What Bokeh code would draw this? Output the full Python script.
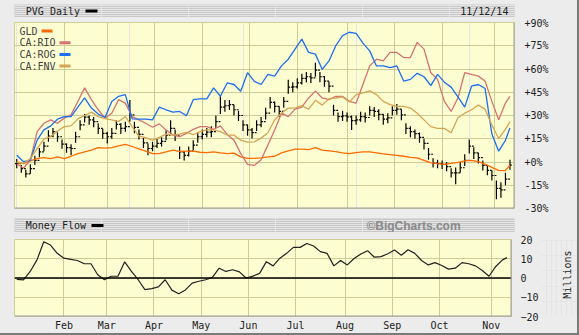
import math
import pandas as pd
from bokeh.plotting import figure
from bokeh.models import (Range1d, FixedTicker, Grid, Span, Label, BoxAnnotation,
                          PrintfTickFormatter)
from bokeh.core.properties import value
from bokeh.layouts import column, row
from bokeh.embed import file_html
from bokeh.resources import INLINE

BG = "#ececec"
BAND = "#c8c8c8"
PLOT_BG = "#fdfdd2"
GRID = "#cfcd96"
SHADOW = "#9c9c9c"
FONT = "DejaVu Sans Mono"

# trading days 2014-01-02 .. 2014-11-12
holidays = ["2014-01-20", "2014-02-17", "2014-04-18", "2014-05-26", "2014-07-04", "2014-09-01"]
days = pd.bdate_range("2014-01-02", "2014-11-12", freq="C", holidays=holidays)
N = len(days)

# sample positions (trading-day index)
line_idx = list(range(0, 217, 3)) + [218]
bar_idx = list(range(0, 219, 2))

# comparison series, % change
gld = [0, -1.1, 0.7, 2.2, 2.8, 2.2, 3.3, 2.2, 3.7, 5.4, 6.5, 7.6, 9.3, 8.9, 9.3, 10.4, 11.3, 10, 8.5, 7,
       5.4, 5.4, 6.5, 7.6, 6.8, 7, 7, 6.3, 6.1, 6.5, 5.9, 5.4, 5.7, 3.3, 2.4, 2.4, 2.6, 3.3, 3.7, 5.9,
       7.2, 8.3, 8.3, 8, 9.3, 7.6, 7.2, 6.7, 5.9, 5.4, 6.1, 6.5, 6.5, 5.9, 5.2, 4.8, 4.3, 3.7, 3, 2.6,
       1.1, -0.4, -1.1, -1.5, -0.9, -0.2, 0.7, 1.1, 0.2, -1.3, -3.5, -5.4, -5.5, -2]
rio = [-1.1, -3.9, 1.1, 19.6, 25, 27.2, 25, 28.3, 30.4, 39, 47.8, 40.2, 33.7, 28.3, 31.5, 40.2, 38, 29.3,
       27.2, 25, 22.4, 24.6, 20.7, 17.4, 16.3, 18.5, 21.1, 22.8, 22.8, 21.1, 23.3, 17.8, 14.1, 5.4, -1.5,
       -2.2, 1.5, 10.9, 20.7, 31.5, 29.3, 34.1, 35.4, 41.3, 45.7, 41.3, 40.2, 42.4, 42.4, 39.1, 38, 50,
       62, 66.3, 65.2, 70.7, 70.7, 67.4, 67.4, 77.2, 72.8, 57.6, 53.3, 39.1, 32.6, 41.3, 57.6, 56.5, 55.4,
       52.2, 39.1, 27.2, 38, 42.4]
rog = [4.3, 0.2, 1.1, 14.1, 20.7, 23.3, 27.6, 29.3, 29.3, 35.4, 41.3, 34.8, 30.9, 28.7, 39.1, 42.4, 43.5,
       27.8, 27.6, 27.6, 27.2, 35.4, 33.7, 32.2, 32.6, 29.8, 40.2, 40.7, 40.7, 47.8, 42.4, 51, 50, 45.7,
       57.6, 52, 50, 56.5, 55.4, 62, 66.3, 72.8, 79.3, 70.7, 69.6, 59.8, 65.2, 75, 81.5, 83.7, 83, 76.7,
       71.7, 62, 62, 60.9, 62, 52.2, 53.3, 57.2, 55, 49.3, 56.5, 51.5, 48.3, 42, 35.4, 48.9, 50, 47.4,
       18, 7, 14, 22]
fnv = [0, -1.1, 2.2, 8.7, 14.8, 16.3, 20, 22.8, 23.3, 27.8, 30, 32.2, 29.3, 28, 27.2, 26.1, 29.3, 22.8,
       16.7, 15.7, 14.1, 15.9, 18, 17.4, 18, 19.1, 17.6, 19.6, 20.7, 20.7, 19.6, 17.4, 17.4, 14.1, 12.8,
       13, 15.4, 18.9, 27.2, 31.5, 34.8, 34.8, 36.3, 34.1, 39.8, 36.7, 40.9, 41.3, 42, 38.7, 43.5, 44.6,
       45.9, 43.5, 39.1, 37, 35.9, 35.9, 34.8, 31.5, 27.2, 22.8, 21.7, 21.7, 18.9, 28.5, 31.5, 33.7,
       36.7, 34.1, 23.9, 15.2, 21.1, 26]

# PVG daily bars, % change
pvg_close = [-1.1, -4.3, -7.6, -4.3, 1.1, 6.5, 10.2, 16.7, 19.6, 16.3,
             11.5, 9.3, 8.7, 16.3, 23.9, 28.9, 27.2, 26.1, 21.7, 18.5,
             16.3, 18.5, 24.3, 21.7, 22.8, 30.4, 22.4, 17.8, 12.4, 8.7,
             10.2, 12, 13.3, 17.4, 21.7, 17.4, 6.5, 4.3, 7, 10.9,
             16.3, 17.8, 19.3, 19.6, 26.1, 35.4, 36.3, 37, 33.7, 30,
             23.9, 20.7, 18.9, 23.9, 26.1, 31.5, 38.5, 35.9, 32.6, 39.1,
             48.3, 48.5, 51, 53.9, 55, 54.3, 59.3, 55, 52.2, 48.9,
             33.3, 29.3, 29.8, 29.1, 26.7, 27.2, 29.3, 28.7, 33.3, 32.6,
             30.7, 27.6, 28.5, 33.3, 34.1, 30.4, 21.7, 19.6, 18.3, 15.9,
             12, 5, -0.7, -1.1, -1.5, -3, -7, -7, -3.7, 1.1,
             10.2, 5.9, 2.8, -2.2, -5.4, -8.7, -17, -18, -11, -2]
pvg_high = [2, -2, -5, -1.5, 4, 9, 13, 20.5, 22, 19,
            14.5, 12, 11.5, 19.5, 27, 31, 30, 29, 25, 21.5,
            19.5, 22, 27, 25, 26, 40, 26, 21, 15.5, 12,
            13, 15, 16, 20.5, 27, 21, 10, 7, 10, 14,
            19, 21, 22, 23, 30, 42.4, 40, 40, 37, 33,
            27, 24, 22, 27, 29, 35, 42, 39, 36, 42,
            53, 51.5, 54, 57, 58, 57.5, 64, 58, 55.5, 52,
            37, 32, 33, 32, 30, 30, 32.5, 32, 36, 35.5,
            34, 31, 31.5, 36, 37.5, 34, 25, 23, 21, 19,
            15, 9, 2.5, 1.5, 1, 0, -4, -3.5, 0, 5,
            14.5, 9.5, 6, 1, -2.5, -5.5, -12, -13, -7, 1.5]
pvg_low = [-4, -7, -10, -7.5, -2, 3, 7, 13, 16, 13,
           8.5, 6, 4.3, 12.5, 20.5, 25.5, 24, 22.5, 18, 15,
           12, 15, 21, 18, 19.5, 26, 18.5, 14.5, 9, 4.3,
           7, 9, 10, 14, 18, 13.5, 2, 1, 3.5, 7.5,
           12.5, 14.5, 16, 16, 22, 31, 32.5, 33.5, 30, 26.5,
           20, 17, 15.2, 20, 22.5, 27.5, 34.5, 32, 29, 35,
           44, 45, 47.5, 50, 51.5, 51, 55, 51.5, 48.5, 45,
           30, 26, 26.5, 26, 20.7, 24, 26, 25.5, 30, 29,
           27, 24, 25, 30, 30.5, 27, 18, 16, 15, 12.5,
           8, 1.5, -3.5, -4, -4.5, -6, -10, -14.3, -7, -2.5,
           5.5, 2, -1, -5.5, -8.5, -12, -24, -23, -15, -5]

# Money flow, millions
money_flow = [-0.7, -1, 3.4, 9.4, 18.8, 17.1, 12.8, 10.3, 9.7, 9.1, 7.4, 7.4, 1.7, -0.9, 0.9, 0.9, 8.4,
              3.4, -0.9, -6, -5.5, -4.6, -0.9, -6.3, -8.2, -6.2, -2.7, -1.7, -0.9, 0.3, 5.1, 3.4, 4.3,
              3.2, 0, 1, 2.4, 8.5, 6.3, 10.3, 12.8, 15.9, 15.9, 17.9, 16.6, 13.7, 12.8, 6.3, 9.1, 6.8,
              10.1, 12.5, 14.2, 10.8, 11.1, 12.6, 14.5, 11.8, 14.7, 12.8, 9.1, 6.8, 8, 6.5, 4.6, 5.1,
              8, 7.4, 6.3, 3.9, 0.9, 6, 9.4, 10.6]

pct_ticks = [-30, -15, 0, 15, 30, 45, 60, 75, 90]
mf_ticks = [-20, -10, 0, 10, 20]
month_idx = [i for i in range(1, N) if days[i].month != days[i - 1].month]
month_lbl = {i: days[i].strftime("%b") for i in month_idx}

series = [("GLD", gld, "#ff6a00"), ("CA:RIO", rio, "#d47272"),
          ("CA:ROG", rog, "#1e6ef0"), ("CA:FNV", fnv, "#d4a552")]

W = 577
common = dict(output_backend="svg", toolbar_location=None, border_fill_color=BG)


def header(height, top, left_text, swatch, right_text, right_bold=False, right_color="#222222",
           right_x=569, right_font=FONT, right_size="10px"):
    fh = height - top
    fw = W - 2
    h = figure(width=W, height=height, x_range=Range1d(0, fw), y_range=Range1d(0, fh),
               x_axis_location=None, y_axis_location=None, min_border_left=2, min_border_right=0,
               min_border_top=top, min_border_bottom=0, background_fill_color=BAND,
               outline_line_color=None, **common)
    h.text(x=[13], y=[fh / 2], text=[left_text], text_font=value(FONT),
           text_font_size=value("10px"), text_color="#222222", text_baseline="middle",
           text_align="left")
    h.text(x=[right_x], y=[fh / 2], text=[right_text], text_font=value(right_font),
           text_font_size=value(right_size), text_color=right_color, text_baseline="middle",
           text_align="right", text_font_style="bold" if right_bold else "normal")
    h.add_layout(BoxAnnotation(left=swatch, right=swatch + 12, bottom=fh / 2 - 1.5, top=fh / 2 + 1.5,
                               left_units="screen", right_units="screen", bottom_units="screen",
                               top_units="screen", fill_color="black", fill_alpha=1, line_color=None))
    return h


hdr1 = header(17, 4, "PVG Daily", 71, "11/12/14", right_x=568)

# ---- main price panel ----
p = figure(width=W, height=201, x_range=Range1d(-1, 220), y_range=Range1d(-30, 90),
           x_axis_location=None, y_axis_location="right", min_border_left=14, min_border_right=63,
           min_border_top=5, min_border_bottom=10, background_fill_color=PLOT_BG,
           outline_line_color=GRID, **common)
p.yaxis.ticker = FixedTicker(ticks=pct_ticks)
p.yaxis.formatter = PrintfTickFormatter(format="%+d%%")
p.yaxis.axis_line_color = None
p.yaxis.major_tick_line_color = None
p.yaxis.minor_tick_line_color = None
p.yaxis.major_tick_out = 0
p.yaxis.major_label_standoff = 10
p.yaxis.major_label_text_font = FONT
p.yaxis.major_label_text_font_size = "10px"
p.yaxis.major_label_text_color = "#222222"
p.ygrid.grid_line_color = GRID
p.add_layout(Grid(dimension=0, ticker=FixedTicker(ticks=month_idx), grid_line_color=GRID))

pvg_open = [pvg_close[0]] + pvg_close[:-1]
p.segment(x0=bar_idx, y0=pvg_low, x1=bar_idx, y1=pvg_high, line_color="black", line_width=1.2)
p.segment(x0=bar_idx, y0=pvg_close, x1=[i + 0.8 for i in bar_idx], y1=pvg_close,
          line_color="black", line_width=1.2)
p.segment(x0=[i - 0.8 for i in bar_idx], y0=pvg_open, x1=bar_idx, y1=pvg_open,
          line_color="black", line_width=1.2)
for name, vals, col in series:
    p.line(line_idx, vals, line_color=col, line_width=1.3)

p.add_layout(Span(location=-30, dimension="width", line_color=SHADOW, line_width=2))
p.add_layout(Span(location=220, dimension="height", line_color=SHADOW, line_width=2))

leg_y = [177.5, 165.8, 154.1, 142.4]
for (name, vals, col), ly in zip(series, leg_y):
    p.add_layout(Label(x=5, y=ly, x_units="screen", y_units="screen", text=name, text_font=FONT,
                       text_font_size="10px", text_color="#444444", text_baseline="middle"))
    sx = 27 if name == "GLD" else 45
    p.add_layout(BoxAnnotation(left=sx, right=sx + 11, bottom=ly - 1.5, top=ly + 1.5,
                               left_units="screen", right_units="screen", bottom_units="screen",
                               top_units="screen", fill_color=col, fill_alpha=1, line_color=None))

hdr2 = header(14, 0, "Money Flow", 77, "\u00a9BigCharts.com", right_bold=True, right_color="#8a8a8a",
              right_x=513, right_font="Liberation Sans", right_size="12px")

# ---- money flow panel ----
MW = 541
m = figure(width=MW, height=101, x_range=Range1d(-1, 220), y_range=Range1d(-20, 20),
           y_axis_location="right", min_border_left=14, min_border_right=MW - 514,
           min_border_top=7, min_border_bottom=15, background_fill_color=PLOT_BG,
           outline_line_color=GRID, **common)
m.xaxis.ticker = FixedTicker(ticks=month_idx)
m.xaxis.major_label_overrides = month_lbl
m.yaxis.ticker = FixedTicker(ticks=mf_ticks)
for ax in (m.xaxis[0], m.yaxis[0]):
    ax.axis_line_color = None
    ax.major_tick_line_color = None
    ax.minor_tick_line_color = None
    ax.major_tick_out = 0
    ax.major_label_text_font = FONT
    ax.major_label_text_font_size = "10px"
    ax.major_label_text_color = "#222222"
m.xaxis.major_label_standoff = 3
m.yaxis.major_label_standoff = 9
m.xgrid.grid_line_color = GRID
m.ygrid.grid_line_color = GRID

m.add_layout(Span(location=0, dimension="width", line_color="black", line_width=1.5))
m.line(line_idx, money_flow, line_color="#222222", line_width=1.2)
m.add_layout(Span(location=-20, dimension="width", line_color=SHADOW, line_width=2))
m.add_layout(Span(location=220, dimension="height", line_color=SHADOW, line_width=2))

# side strip carrying the vertical unit caption (reads bottom to top)
SW = W - MW
side = figure(width=SW, height=101, x_range=Range1d(0, SW), y_range=Range1d(0, 101),
              x_axis_location=None, y_axis_location=None, min_border=0,
              background_fill_color=BG, outline_line_color=None, **common)
side.text(x=[SW - 10.5], y=[55], text=["Millions"], angle=math.pi / 2,
          text_font=value(FONT), text_font_size=value("10px"), text_color="#222222",
          text_align="center", text_baseline="middle")

layout = column(hdr1, p, hdr2, row(m, side, spacing=0), spacing=0,
                styles={"border-right": "2px solid #7a7a7a", "border-bottom": "2px solid #7a7a7a",
                        "background-color": BG})

open("out.html", "w").write(file_html(layout, INLINE))
